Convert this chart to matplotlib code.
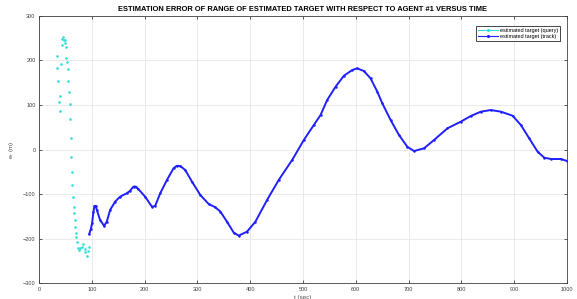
import matplotlib
matplotlib.use("Agg")
import matplotlib.pyplot as plt
from matplotlib.lines import Line2D

# ---- data ----
query_t = [44.9, 44.3, 46.8, 48.7, 43.0, 50.0, 50.6, 33.5, 51.9, 53.1, 41.1, 34.8,
           54.3, 36.7, 55.7, 56.3, 39.8, 38.0, 58.2, 39.2, 59.5, 60.0, 60.8, 62.0,
           63.3, 64.5, 65.8, 66.4, 67.7, 68.3, 69.6, 70.8, 72.1, 74.0, 75.9, 77.8,
           81.0, 83.5, 86.5, 88.0, 90.4, 93.6, 94.9]
query_e = [251.8, 247.4, 245.0, 244.4, 234.0, 237.7, 230.0, 210.0, 204.0, 196.6, 192.0, 181.7,
           179.5, 154.0, 153.0, 129.5, 120.5, 107.0, 102.0, 86.0, 68.0, 26.5, -16.0, -49.6,
           -79.5, -107.0, -129.5, -143.0, -158.0, -173.0, -186.0, -196.6, -207.0, -219.7, -225.0, -221.0,
           -217.5, -211.5, -222.0, -229.0, -238.0, -226.5, -219.0]

track_t = [95.0, 98.0, 100.6, 103.0, 105.0, 107.5, 109.4, 115.7, 123.3, 128.4, 134.7, 144.2,
           153.7, 166.3, 172.0, 179.0, 183.0, 188.4, 201.0, 213.8, 220.0, 229.6, 242.3, 254.9,
           261.0, 267.6, 277.0, 289.7, 305.5, 321.3, 334.0, 343.5, 356.0, 368.7, 378.2, 394.0,
           409.9, 432.0, 454.0, 479.5, 501.6, 520.5, 533.2, 545.8, 561.7, 577.5, 593.3, 602.8,
           615.4, 628.0, 640.8, 650.2, 666.0, 681.8, 697.7, 710.3, 729.2, 748.2, 773.6, 798.9,
           817.8, 836.8, 855.8, 874.8, 897.0, 912.7, 928.5, 944.4, 957.0, 969.6, 988.6, 1000.0]
track_e = [-190.0, -178.7, -165.0, -140.0, -127.0, -126.0, -135.0, -157.8, -171.0, -161.5, -135.4, -116.7,
           -105.6, -98.0, -93.0, -83.0, -83.0, -89.0, -105.6, -128.0, -126.5, -98.0, -68.3, -42.0,
           -36.5, -37.0, -46.0, -72.0, -101.9, -122.0, -129.5, -139.0, -161.6, -186.0, -192.9, -184.0,
           -161.6, -113.0, -68.3, -23.5, 21.3, 54.8, 77.0, 110.8, 140.6, 165.2, 178.0, 181.7,
           175.7, 159.3, 129.5, 103.4, 66.0, 32.5, 6.0, -3.4, 2.6, 21.3, 47.4, 62.3,
           75.0, 84.7, 88.4, 84.7, 75.7, 54.8, 25.0, -4.9, -18.3, -21.3, -21.3, -25.7]

x_ticks = [0, 100, 200, 300, 400, 500, 600, 700, 800, 900, 1000]
y_ticks = [-300, -200, -100, 0, 100, 200, 300]

title = "ESTIMATION ERROR OF RANGE OF ESTIMATED TARGET WITH RESPECT TO AGENT #1 VERSUS TIME"
labels = ["estimated target (query)", "estimated target (track)"]

# ---- plot ----
plt.rcParams['font.family'] = ['Liberation Sans', 'DejaVu Sans']
fig = plt.figure(figsize=(5.77, 2.99), dpi=100)
ax = fig.add_axes([0.0676, 0.052, 0.915, 0.896])

cyan = '#33e0d8'
blue = '#1f1fff'

ax.plot(query_t, query_e, linestyle='none', marker='.', markersize=1.8, color=cyan)
ax.plot(track_t, track_e, linestyle='-', linewidth=1.4, marker='.', markersize=1.6,
        color=blue, solid_joinstyle='round', solid_capstyle='round')

ax.set_xlim(0, 1000)
ax.set_ylim(-300, 300)
ax.set_xticks(x_ticks)
ax.set_yticks(y_ticks)
ax.grid(True, color='#e6e6e6', linewidth=0.6)
ax.set_axisbelow(True)
ax.tick_params(direction='in', length=2.5, width=0.6, colors='#404040', labelsize=4,
               top=True, right=True, pad=2.5)
for s in ax.spines.values():
    s.set_color('#404040')
    s.set_linewidth(0.6)

ax.set_title(title, fontsize=5.4, fontweight='bold', pad=3)
ax.set_ylabel(r'e$_r$ (m)', fontsize=4.5, color='#505050', labelpad=5)
ax.set_xlabel('t (sec)', fontsize=4.5, color='#505050')
ax.xaxis.set_label_coords(0.5, -0.043)
ax.xaxis.label.set_va('top')

handles = [Line2D([0], [0], color=cyan, marker='.', markersize=2.5, linewidth=0.8),
           Line2D([0], [0], color=blue, marker='.', markersize=2.5, linewidth=0.8)]
leg = ax.legend(handles, labels, loc='upper right', fontsize=4, frameon=True, fancybox=False,
                edgecolor='#262626', framealpha=1, handlelength=3.5, borderpad=0.35,
                labelspacing=0.25, handletextpad=0.4, bbox_to_anchor=(0.992, 0.973))
leg.get_frame().set_linewidth(0.6)

fig.savefig('out.png', dpi=100)
